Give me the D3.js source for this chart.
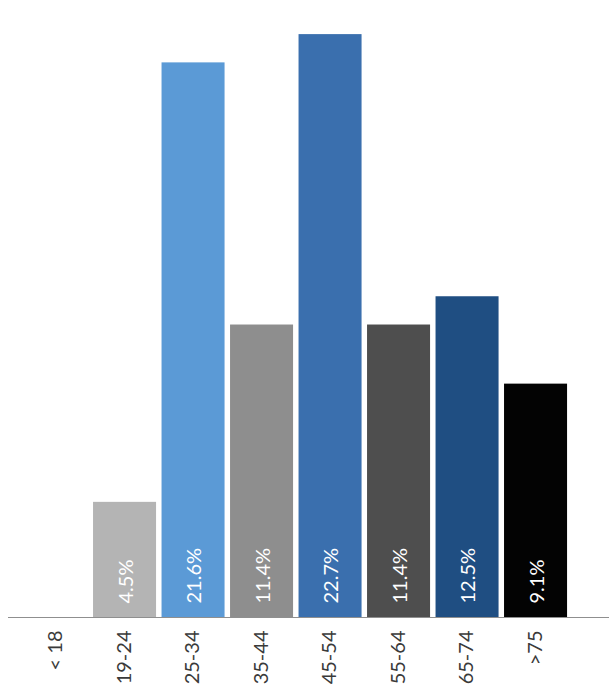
<!DOCTYPE html>
<html>
<head>
<meta charset="utf-8">
<script src="https://cdn.jsdelivr.net/npm/d3@7"></script>
<style>
  html, body { margin: 0; padding: 0; background: #fff; }
  svg { display: block; }
</style>
</head>
<body>
<svg id="chart" width="609" height="691"></svg>
<script>
// Age groups and their share of respondents (%)
const categories = ["< 18", "19-24", "25-34", "35-44", "45-54", "55-64", "65-74", ">75"];
const values = [0, 4.5, 21.6, 11.4, 22.7, 11.4, 12.5, 9.1];
const valueLabels = ["", "4.5%", "21.6%", "11.4%", "22.7%", "11.4%", "12.5%", "9.1%"];
const barColors = ["#b4b4b4", "#b4b4b4", "#5b9ad6", "#8e8e8e", "#3a6fae", "#4e4e4e", "#1f4e82", "#030303"];

const svg = d3.select("#chart");
const baseY = 617.5;

const x = d3.scaleBand()
  .domain(categories)
  .range([21.8, 569.8])
  .paddingInner(0.08)
  .paddingOuter(0.04);

const y = d3.scaleLinear()
  .domain([0, 24])
  .range([baseY, baseY - 24 * 25.7]);

const data = categories.map((c, i) => ({ c, v: values[i], label: valueLabels[i], color: barColors[i] }));

// Bars
svg.append("g")
  .selectAll("rect")
  .data(data.filter(d => d.v > 0))
  .join("rect")
  .attr("x", d => x(d.c))
  .attr("width", x.bandwidth())
  .attr("y", d => y(d.v))
  .attr("height", d => y(0) - y(d.v))
  .attr("fill", d => d.color);

// Value labels inside the bars, rotated
svg.append("g")
  .selectAll("text")
  .data(data.filter(d => d.v > 0))
  .join("text")
  .attr("transform", d => `translate(${x(d.c) + x.bandwidth() / 2},${baseY - 14}) rotate(-90)`)
  .attr("text-anchor", "start")
  .attr("dominant-baseline", "central")
  .attr("fill", "#ffffff")
  .style("font-family", "Lato, 'Open Sans', sans-serif")
  .style("font-size", "20px")
  .text(d => d.label);

// Category axis
const axis = svg.append("g")
  .attr("transform", `translate(0,${baseY})`)
  .call(d3.axisBottom(x).tickSize(0).tickPadding(0));
axis.select(".domain").remove();
axis.selectAll("text")
  .attr("transform", "translate(-2,13) rotate(-90)")
  .attr("text-anchor", "end")
  .attr("dy", null)
  .attr("y", 0)
  .attr("x", 0)
  .attr("dominant-baseline", "central")
  .attr("fill", "#3a3a3a")
  .style("font-family", "Lato, 'Open Sans', sans-serif")
  .style("font-size", "20px");

// Baseline
svg.append("line")
  .attr("x1", 8).attr("x2", 609)
  .attr("y1", baseY).attr("y2", baseY)
  .attr("stroke", "#8f8f8f")
  .attr("stroke-width", 1);
</script>
</body>
</html>
